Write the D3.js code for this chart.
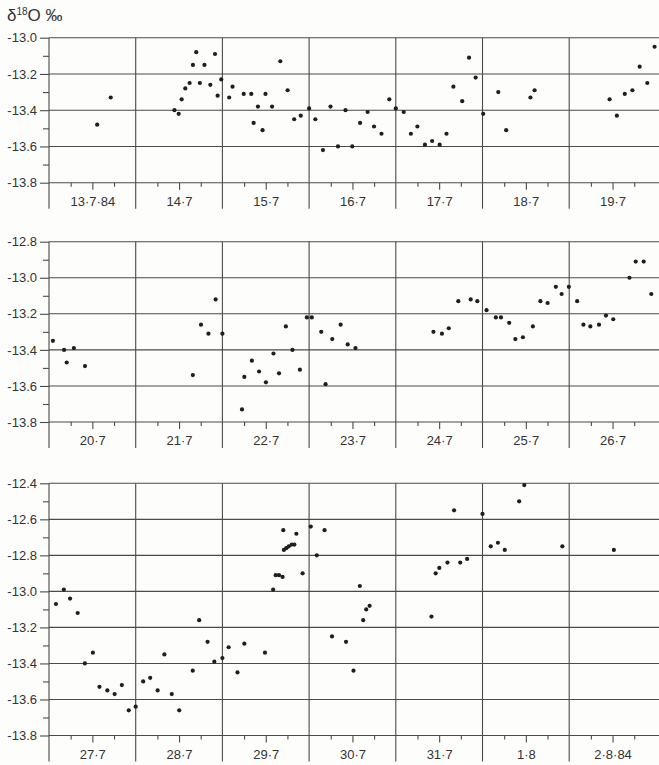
<!DOCTYPE html>
<html>
<head>
<meta charset="utf-8">
<script src="https://cdn.jsdelivr.net/npm/d3@7"></script>
<style>
  body { margin: 0; background: #fdfdfb; }
  svg { display: block; }
  text { font-family: "Liberation Sans", "DejaVu Sans", sans-serif; fill: #333; }
</style>
</head>
<body>
<svg id="chart" width="659" height="765"></svg>
<script>
// δ18O record, July–August 1984. Times are in days from the first day of each row.
const row1Days = ["13·7·84", "14·7", "15·7", "16·7", "17·7", "18·7", "19·7"];
const row2Days = ["20·7", "21·7", "22·7", "23·7", "24·7", "25·7", "26·7"];
const row3Days = ["27·7", "28·7", "29·7", "30·7", "31·7", "1·8", "2·8·84"];

const row1Time = [0.556,0.712,1.447,1.496,1.530,1.572,1.622,1.660,1.698,1.740,1.793,1.861,1.915,1.945,1.987,2.078,2.117,2.246,2.333,2.360,2.410,2.463,2.497,2.573,2.668,2.752,2.828,2.904,3.000,3.072,3.160,3.247,3.333,3.420,3.498,3.588,3.675,3.749,3.835,3.925,4.000,4.091,4.174,4.249,4.336,4.419,4.506,4.585,4.664,4.766,4.845,4.921,5.008,5.182,5.273,5.553,5.601,6.466,6.550,6.641,6.729,6.813,6.901,6.985];
const row1Value = [-13.48,-13.33,-13.40,-13.42,-13.34,-13.28,-13.25,-13.15,-13.08,-13.25,-13.15,-13.26,-13.09,-13.32,-13.23,-13.33,-13.27,-13.31,-13.31,-13.47,-13.38,-13.51,-13.31,-13.38,-13.13,-13.29,-13.45,-13.43,-13.39,-13.45,-13.62,-13.38,-13.60,-13.40,-13.60,-13.47,-13.41,-13.49,-13.53,-13.34,-13.39,-13.41,-13.53,-13.49,-13.59,-13.57,-13.59,-13.53,-13.27,-13.35,-13.11,-13.22,-13.42,-13.30,-13.51,-13.33,-13.29,-13.34,-13.43,-13.31,-13.29,-13.16,-13.25,-13.05];

const row2Time = [0.045,0.174,0.204,0.287,0.415,1.659,1.753,1.839,1.922,2.000,2.226,2.253,2.340,2.423,2.502,2.589,2.653,2.732,2.808,2.894,2.974,3.031,3.140,3.190,3.267,3.364,3.445,3.535,4.434,4.532,4.611,4.721,4.864,4.940,5.047,5.154,5.213,5.308,5.379,5.466,5.581,5.668,5.751,5.846,5.913,5.996,6.092,6.164,6.244,6.344,6.424,6.508,6.695,6.767,6.859,6.947];
const row2Value = [-13.35,-13.40,-13.47,-13.39,-13.49,-13.54,-13.26,-13.31,-13.12,-13.31,-13.73,-13.55,-13.46,-13.52,-13.58,-13.42,-13.53,-13.27,-13.40,-13.51,-13.22,-13.22,-13.30,-13.59,-13.34,-13.26,-13.37,-13.39,-13.30,-13.31,-13.28,-13.13,-13.12,-13.13,-13.18,-13.22,-13.22,-13.25,-13.34,-13.33,-13.27,-13.13,-13.14,-13.05,-13.09,-13.05,-13.13,-13.26,-13.27,-13.26,-13.21,-13.23,-13.00,-12.91,-12.91,-13.09];

const row3Time = [0.080,0.171,0.243,0.331,0.414,0.506,0.582,0.673,0.757,0.840,0.920,1.000,1.086,1.167,1.253,1.331,1.416,1.502,1.658,1.732,1.829,1.907,2.000,2.072,2.174,2.253,2.491,2.585,2.615,2.653,2.694,2.702,2.709,2.736,2.766,2.800,2.830,2.853,2.925,3.019,3.089,3.178,3.264,3.426,3.512,3.585,3.624,3.659,3.698,4.411,4.460,4.502,4.596,4.672,4.743,4.823,5.000,5.095,5.178,5.257,5.423,5.482,5.921,6.515];
const row3Value = [-13.07,-12.99,-13.04,-13.12,-13.40,-13.34,-13.53,-13.55,-13.57,-13.52,-13.66,-13.64,-13.50,-13.48,-13.55,-13.35,-13.57,-13.66,-13.44,-13.16,-13.28,-13.39,-13.37,-13.31,-13.45,-13.29,-13.34,-12.99,-12.91,-12.91,-12.92,-12.66,-12.77,-12.76,-12.75,-12.74,-12.74,-12.68,-12.90,-12.64,-12.80,-12.66,-13.25,-13.28,-13.44,-12.97,-13.16,-13.10,-13.08,-13.14,-12.90,-12.87,-12.84,-12.55,-12.84,-12.82,-12.57,-12.75,-12.73,-12.77,-12.50,-12.41,-12.75,-12.77];

const row1Range = [-13.8, -13.0];
const row2Range = [-13.8, -12.8];
const row3Range = [-13.8, -12.4];

const rows = [
  { days: row1Days, time: row1Time, value: row1Value, range: row1Range, top: 37.7, bottom: 182.7 },
  { days: row2Days, time: row2Time, value: row2Value, range: row2Range, top: 241.7, bottom: 422.0 },
  { days: row3Days, time: row3Time, value: row3Value, range: row3Range, top: 483.3, bottom: 735.5 }
];

const W = 659;
const left = 49;
const dayWidth = 86.7;
const lineColor = "#4a4a4a";
const svg = d3.select("#chart");

// Axis title
const title = svg.append("text").attr("x", 7).attr("y", 21)
  .attr("font-size", 17).style("font-size", "17px");
title.append("tspan").text("δ");
title.append("tspan").attr("dy", -6).style("font-size", "10px").text("18");
title.append("tspan").attr("dy", 6).style("font-size", "17px").text("O ‰");

const fmt = d3.format(".1f");

rows.forEach(row => {
  const g = svg.append("g");
  const x = d3.scaleLinear().domain([0, 7]).range([left, left + 7 * dayWidth]);
  const y = d3.scaleLinear().domain(row.range).range([row.bottom, row.top]);

  const majors = d3.range(Math.round(row.range[0] * 10), Math.round(row.range[1] * 10) + 1, 2).map(d => d / 10);
  const minors = d3.range(Math.round(row.range[0] * 10) + 1, Math.round(row.range[1] * 10), 2).map(d => d / 10);

  // horizontal grid lines across the row
  g.append("g").selectAll("line").data(majors).join("line")
    .attr("x1", left).attr("x2", W)
    .attr("y1", d => y(d)).attr("y2", d => y(d))
    .attr("stroke", lineColor).attr("stroke-width", 1.1);

  // y axis: labelled ticks every 0.2, short ticks between
  const yAxis = g.append("g").attr("transform", `translate(${left},0)`)
    .call(d3.axisLeft(y).tickValues(majors).tickSize(9).tickPadding(3)
      .tickFormat(d => fmt(d).replace("−", "-")));
  const yMinor = g.append("g").attr("transform", `translate(${left},0)`)
    .call(d3.axisLeft(y).tickValues(minors).tickSize(6).tickFormat(""));
  [yAxis, yMinor].forEach(a => {
    a.select(".domain").remove();
    a.selectAll("line").attr("stroke", lineColor).attr("stroke-width", 1.1);
  });
  yAxis.selectAll("text").style("font-size", "13px").style("fill", "#333").style("font-family", null);

  // day boundaries, running below the axis into the label strip
  g.append("g").selectAll("line").data(d3.range(0, 7)).join("line")
    .attr("x1", d => x(d)).attr("x2", d => x(d))
    .attr("y1", row.top).attr("y2", row.bottom + 26)
    .attr("stroke", lineColor).attr("stroke-width", 1.1);

  // 6-hourly ticks with the date under noon
  const quarter = [];
  d3.range(0, 7).forEach(d => { quarter.push(d + 0.25, d + 0.75); });
  const xq = g.append("g").attr("transform", `translate(0,${row.bottom})`)
    .call(d3.axisBottom(x).tickValues(quarter).tickSize(4).tickFormat(""));
  const xn = g.append("g").attr("transform", `translate(0,${row.bottom})`)
    .call(d3.axisBottom(x).tickValues(d3.range(0, 7).map(d => d + 0.5)).tickSize(7).tickPadding(7)
      .tickFormat((d, i) => row.days[i]));
  [xq, xn].forEach(a => {
    a.select(".domain").remove();
    a.selectAll("line").attr("stroke", lineColor).attr("stroke-width", 1.1);
  });
  xn.selectAll("text").style("font-size", "13px").style("fill", "#333").style("font-family", null);

  // samples
  g.append("g").selectAll("circle").data(row.time.map((t, i) => [t, row.value[i]])).join("circle")
    .attr("cx", d => x(d[0])).attr("cy", d => y(d[1])).attr("r", 2.1)
    .attr("fill", "#1e1e1e");
});
</script>
</body>
</html>
